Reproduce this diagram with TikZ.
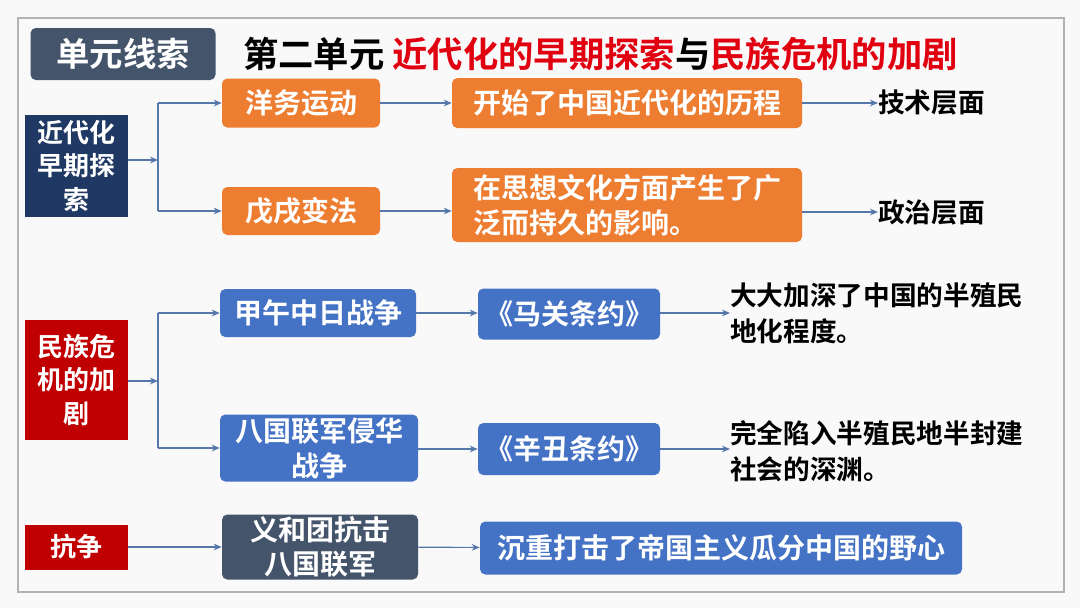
\documentclass[tikz,border=0pt]{standalone}
\usepackage{fontspec}
\setmainfont{Noto Sans CJK SC}[BoldFont={Noto Sans CJK SC Bold}]
\usetikzlibrary{arrows.meta}
\definecolor{navy}{HTML}{1F3864}
\definecolor{myred}{HTML}{C00000}
\definecolor{myorange}{HTML}{ED7D31}
\definecolor{myblue}{HTML}{4472C4}
\definecolor{slate}{HTML}{44546A}
\definecolor{lnc}{HTML}{5577AA}
\definecolor{titred}{HTML}{E00010}
\begin{document}
\begin{tikzpicture}[x=0.75pt,y=-0.75pt,
  wh/.style 2 args={minimum width=#1*0.75pt,minimum height=#2*0.75pt},
  bx/.style={rounded corners=4pt,text=white,font=\fontsize{21}{26}\selectfont\bfseries,align=center,inner sep=0pt},
  sq/.style={text=white,font=\fontsize{19.5}{25}\selectfont\bfseries,align=center,inner sep=0pt},
  plain/.style={font=\fontsize{20}{27}\selectfont\bfseries,align=left,inner sep=0pt,anchor=west},
  ar/.style={draw=lnc,line width=0.9pt,-{Stealth[length=6pt,width=5pt]}},
  ln/.style={draw=lnc,line width=0.9pt}]
\useasboundingbox (0,0) rectangle (1080,608);
\fill[white!95!gray] (0,0) rectangle (1080,608);
\draw[gray!60,line width=1pt] (18,18) rectangle (1064,592);
% header
\node[bx,fill=slate,wh={185}{52},font=\fontsize{25}{30}\selectfont\bfseries] (hd) at (123,54) {单元线索};
\node[anchor=west,inner sep=0pt,font=\fontsize{26.5}{30}\selectfont\bfseries] (ti) at (243,54) {第二单元\ \textcolor{titred}{近代化的早期探索}与\textcolor{titred}{民族危机的加剧}};
% left boxes
\node[sq,fill=navy,wh={103}{102}] (L1) at (76,166) {近代化\\早期探\\索};
\node[sq,fill=myred,wh={103}{120}] (L2) at (76,380) {民族危\\机的加\\剧};
\node[sq,fill=myred,wh={103}{45}] (L3) at (76,547) {抗争};
% orange
\node[bx,fill=myorange,wh={158}{49}] (a1) at (301,103) {洋务运动};
\node[bx,fill=myorange,wh={158}{48}] (a2) at (301,211) {戊戌变法};
\node[bx,fill=myorange,wh={350}{50}] (b1) at (627,103) {开始了中国近代化的历程};
\node[bx,fill=myorange,wh={350}{74},align=left] (b2) at (627,205) {在思想文化方面产生了广\\泛而持久的影响。};
\node[plain] (c1) at (878,103) {技术层面};
\node[plain] (c2) at (878,212) {政治层面};
% blue
\node[bx,fill=myblue,wh={196}{48}] (d1) at (318,313) {甲午中日战争};
\node[bx,fill=myblue,wh={182}{51}] (e1) at (569,314) {《马关条约》};
\node[bx,fill=myblue,wh={198}{67}] (d2) at (319,448) {八国联军侵华\\战争};
\node[bx,fill=myblue,wh={182}{52}] (e2) at (569,449) {《辛丑条约》};
\node[plain] (f1) at (730,313) {大大加深了中国的半殖民\\地化程度。};
\node[plain] (f2) at (730,451) {完全陷入半殖民地半封建\\社会的深渊。};
% bottom
\node[bx,fill=slate,wh={196}{65}] (g1) at (320,547) {义和团抗击\\八国联军};
\node[bx,fill=myblue,wh={482}{53}] (h1) at (721,548) {沉重打击了帝国主义瓜分中国的野心};
% connectors
\coordinate (k1) at (158,160);
\coordinate (k2) at (158,381);
\draw[ar] (L1.east|-k1) -- (k1);
\draw[ln] (k1|-a1) -- (k1|-a2);
\draw[ar] (k1|-a1) -- (a1.west);
\draw[ar] (k1|-a2) -- (a2.west);
\draw[ar] (a1) -- (b1);
\draw[ar] (a2.east) -- (b2.west|-a2);
\draw[ar] (b1) -- (c1.west);
\draw[ar] (b2.east|-c2) -- (c2.west);
\draw[ar] (L2.east|-k2) -- (k2);
\draw[ln] (k2|-d1) -- (k2|-d2);
\draw[ar] (k2|-d1) -- (d1.west);
\draw[ar] (k2|-d2) -- (d2.west);
\draw[ar] (d1.east) -- (e1.west|-d1);
\draw[ar] (d2.east|-e2) -- (e2.west);
\draw[ar] (e1.east|-d1) -- (f1.west|-d1);
\draw[ar] (e2.east) -- (f2.west|-e2);
\draw[ar] (L3) -- (g1);
\draw[ar] (g1) -- (h1);
\end{tikzpicture}
\end{document}
